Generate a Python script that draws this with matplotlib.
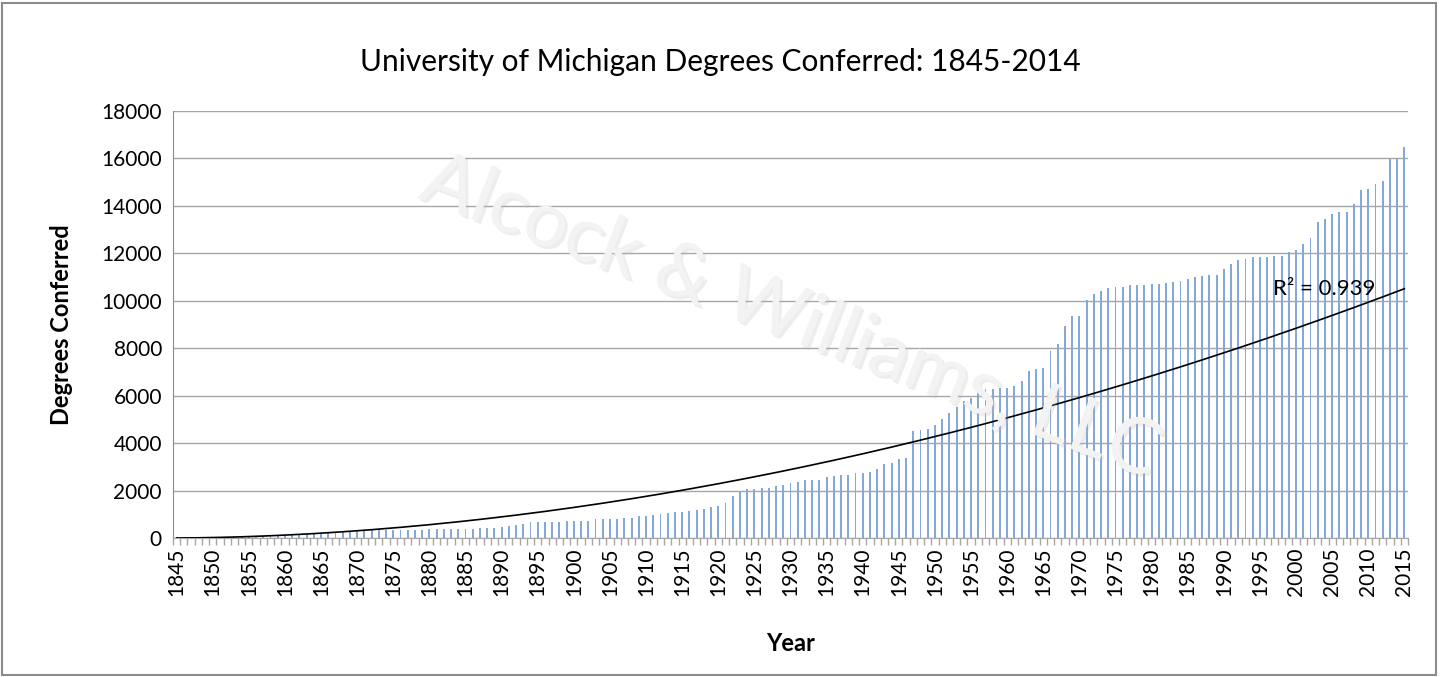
import numpy as np
import matplotlib
matplotlib.use("Agg")
import matplotlib.pyplot as plt
import matplotlib.patheffects as pe
from matplotlib.patches import Rectangle

plt.rcParams['font.family'] = ['Lato', 'DejaVu Sans']

# data
years = list(range(1845, 2016))
degrees = [
    # 1845-1867
    10, 15, 20, 25, 30, 35, 40, 45, 50, 60, 65, 70, 80, 90, 100, 110, 120, 135, 150, 165, 180, 200, 220,
    # 1868-1881
    280, 300, 310, 320, 320, 330, 330, 340, 340, 350, 350, 355, 360, 370,
    # 1882-1920
    380, 380, 380, 395, 395, 420, 420, 420, 465, 520, 565, 605, 660, 660, 660, 675, 690, 705, 730, 730,
    730, 800, 800, 800, 815, 845, 860, 915, 945, 985, 1000, 1055, 1085, 1100, 1140, 1195, 1225, 1295, 1365,
    # 1921-1961
    1480, 1790, 1930, 2045, 2070, 2100, 2115, 2185, 2255, 2300, 2355, 2425, 2440, 2465, 2565, 2605, 2635,
    2650, 2720, 2750, 2775, 2890, 3130, 3170, 3340, 3380, 4510, 4535, 4580, 4775, 5030, 5285, 5540, 5780,
    5920, 6245, 6270, 6270, 6330, 6340, 6400,
    # 1962-1993
    6610, 7045, 7145, 7185, 7890, 8170, 8920, 9370, 9370, 10015, 10300, 10425, 10540, 10595, 10595, 10665,
    10665, 10680, 10710, 10710, 10750, 10780, 10820, 10920, 10990, 11060, 11100, 11100, 11340, 11555,
    11735, 11765,
    # 1994-2015
    11840, 11840, 11860, 11870, 11880, 12070, 12120, 12390, 12650, 13340, 13450, 13660, 13750, 13750,
    14090, 14690, 14720, 14940, 15050, 15960, 15960, 16500,
]
# power trendline y = a * n^b (n = 1..171), coefficients
trend_a = 0.666
trend_b = 1.88
r2_label = "R² = 0.939"
title = "University of Michigan Degrees Conferred: 1845-2014"

fig = plt.figure(figsize=(14.4, 6.77), dpi=100)
ax = fig.add_axes([173 / 1440, 1 - 538 / 677, 1235 / 1440, 427 / 677])

x = np.arange(len(years))
y = np.array(degrees)

# gridlines
ax.set_axisbelow(True)
ax.yaxis.grid(True, color='#a6a6a6', linewidth=1.0)

ax.bar(x, y, width=0.25, color='#84a8d8', linewidth=0, zorder=2)

# power trendline
n = x + 1
ax.plot(x, trend_a * n ** trend_b, color='black', linewidth=1.2, zorder=3)

ax.text(158.9, 10480, r2_label, fontsize=16, ha='center', va='center', zorder=4)

ax.set_xlim(-0.5, len(years) - 0.5)
ax.set_ylim(0, 18000)
ax.set_yticks(np.arange(0, 18001, 2000))
ax.tick_params(axis='y', length=0, labelsize=15, pad=8)

lab_idx = [i for i, yr in enumerate(years) if yr % 5 == 0]
ax.set_xticks(lab_idx)
ax.set_xticklabels([str(years[i]) for i in lab_idx], rotation=90)
ax.set_xticks(np.arange(-0.5, len(years)), minor=True)
ax.tick_params(axis='x', which='major', length=0, labelsize=15, pad=7)
ax.tick_params(axis='x', which='minor', length=5, color='#a6a6a6', width=1)

for s in ['top', 'right']:
    ax.spines[s].set_visible(False)
ax.spines['left'].set_color('#8c8c8c')
ax.spines['bottom'].set_color('#a6a6a6')

ax.set_xlabel('Year', fontsize=17, fontweight='bold', labelpad=26)
ax.set_ylabel('Degrees Conferred', fontsize=17, fontweight='bold', labelpad=20)

fig.text(0.5, 1 - 62 / 677, title, fontsize=21.5, ha='center', va='center')

# watermark
fig.text(0.549, 0.53, 'Alcock & Williams, LLC', fontsize=56, rotation=-21,
         ha='center', va='center', color='#f3f3f3', zorder=10,
         path_effects=[pe.withSimplePatchShadow(offset=(2, -2), shadow_rgbFace='#b8b8b8', alpha=0.25)])

# chart border
fig.patches.append(Rectangle((2 / 1440, 2 / 677), 1434 / 1440, 672 / 677, transform=fig.transFigure,
                             fill=False, edgecolor='#8c8c8c', linewidth=1.5))

fig.savefig('out.png', dpi=100)
